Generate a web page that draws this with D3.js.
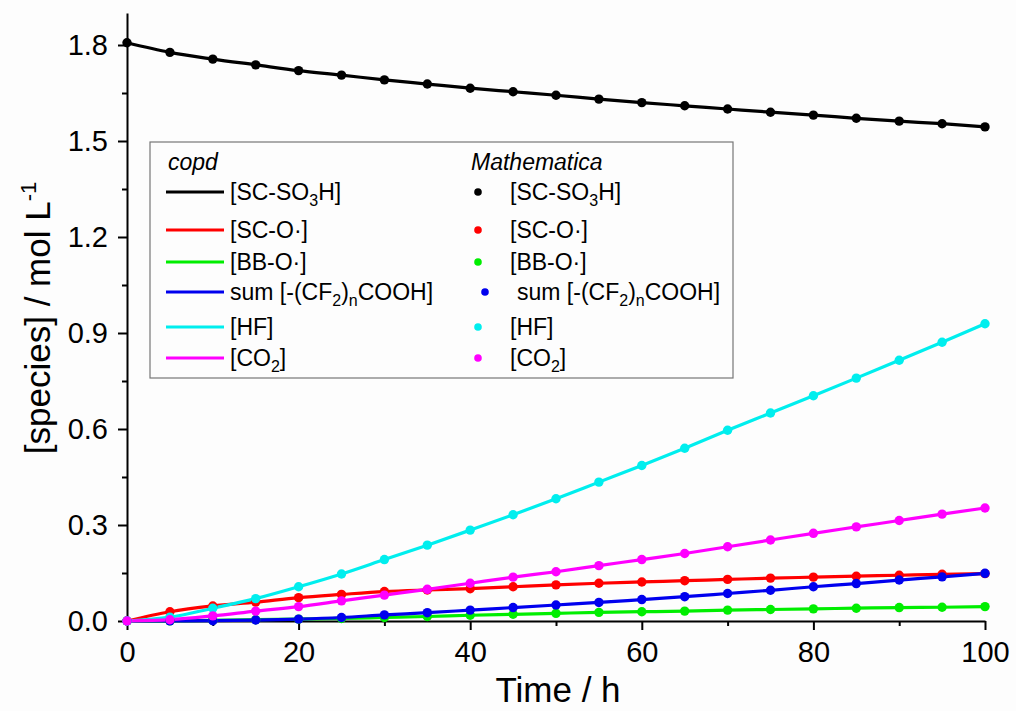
<!DOCTYPE html>
<html>

<head>
  <title>Species vs time</title>
  <script type="text/javascript" src="https://cdn.jsdelivr.net/npm/d3@7/dist/d3.min.js"></script>
  <style>
    body { margin: 0; background: #ffffff; }
    text { font-family: "Liberation Sans", Arial, sans-serif; fill: #000; }
  </style>
</head>

<body>
  <script type="text/javascript">

    // Data, time in h, concentrations in mol/L
    const time = [0, 5, 10, 15, 20, 25, 30, 35, 40, 45, 50, 55, 60, 65, 70, 75, 80, 85, 90, 95, 100];
    const scSO3H = [1.807, 1.777, 1.756, 1.738, 1.720, 1.706, 1.691, 1.678, 1.665, 1.654, 1.643, 1.631, 1.620, 1.610, 1.600, 1.590, 1.581, 1.571, 1.562, 1.554, 1.544];
    const scO = [0, 0.029, 0.047, 0.059, 0.073, 0.083, 0.092, 0.097, 0.101, 0.107, 0.113, 0.118, 0.122, 0.126, 0.130, 0.134, 0.137, 0.140, 0.143, 0.146, 0.148];
    const bbO = [0, 0.0005, 0.002, 0.004, 0.006, 0.008, 0.011, 0.014, 0.018, 0.021, 0.024, 0.027, 0.029, 0.031, 0.034, 0.036, 0.038, 0.040, 0.042, 0.043, 0.045];
    const sumCOOH = [0, 0.0005, 0.001, 0.003, 0.006, 0.011, 0.019, 0.026, 0.034, 0.042, 0.050, 0.058, 0.067, 0.076, 0.086, 0.096, 0.107, 0.117, 0.128, 0.138, 0.149];
    const hf = [0, 0.012, 0.040, 0.070, 0.107, 0.147, 0.192, 0.237, 0.284, 0.332, 0.382, 0.434, 0.486, 0.540, 0.596, 0.650, 0.704, 0.759, 0.815, 0.871, 0.929];
    const co2 = [0, 0.004, 0.016, 0.031, 0.045, 0.063, 0.081, 0.099, 0.118, 0.137, 0.154, 0.173, 0.192, 0.211, 0.232, 0.253, 0.274, 0.294, 0.314, 0.334, 0.353];

    // Labels ("_{x}" = subscript)
    const seriesLabels = ["[SC-SO_{3}H]", "[SC-O·]", "[BB-O·]", "sum [-(CF_{2})_{n}COOH]", "[HF]", "[CO_{2}]"];
    const seriesColors = ["#000000", "#ff0000", "#00ee00", "#0000ee", "#00eeee", "#ff00ff"];
    const xTicks = [0, 20, 40, 60, 80, 100];
    const xMinorTicks = [10, 30, 50, 70, 90];
    const yTicks = [0, 0.3, 0.6, 0.9, 1.2, 1.5, 1.8];
    const yMinorTicks = [0.15, 0.45, 0.75, 1.05, 1.35, 1.65];

    const series = [scSO3H, scO, bbO, sumCOOH, hf, co2];

    const W = 1016, H = 711;

    const xScale = d3.scaleLinear().domain([0, 100]).range([127, 985]);
    const yScale = d3.scaleLinear().domain([0, 1.9]).range([621, 13]);

    const svg = d3.select("body")
      .append("svg")
      .attr("width", W)
      .attr("height", H);

    svg.append("rect").attr("width", W).attr("height", H).attr("fill", "#fdfdfd");

    // put text with subscripts into a text element
    function richText(sel, str, subSize, subShift) {
      const parts = str.split(/(_\{[^}]*\})/).filter(p => p.length);
      let shifted = false;
      parts.forEach(function (p) {
        if (p.startsWith("_{")) {
          sel.append("tspan").attr("font-size", subSize).attr("dy", shifted ? 0 : subShift).text(p.slice(2, -1));
          shifted = true;
        } else {
          sel.append("tspan").attr("dy", shifted ? -subShift : 0).text(p);
          shifted = false;
        }
      });
    }

    // X axis
    const xAxis = svg.append("g").attr("transform", "translate(0,621)");
    xAxis.call(d3.axisBottom(xScale).tickValues(xTicks).tickSize(9).tickSizeOuter(0).tickFormat(d3.format("d")));
    xAxis.append("g").call(d3.axisBottom(xScale).tickValues(xMinorTicks).tickSize(5).tickSizeOuter(0).tickFormat(""))
      .select(".domain").remove();
    xAxis.selectAll(".domain").attr("stroke-width", 2);
    xAxis.selectAll(".tick line").attr("stroke-width", 2);
    xAxis.selectAll(".tick text").attr("font-size", 29).attr("dy", "1.0em")
      .style("font-family", "'Liberation Sans', Arial, sans-serif");

    // Y axis
    const yAxis = svg.append("g").attr("transform", "translate(127,0)");
    yAxis.call(d3.axisLeft(yScale).tickValues(yTicks).tickSize(9).tickSizeOuter(0).tickFormat(d3.format(".1f")));
    yAxis.append("g").call(d3.axisLeft(yScale).tickValues(yMinorTicks).tickSize(5).tickSizeOuter(0).tickFormat(""))
      .select(".domain").remove();
    yAxis.selectAll(".domain").attr("stroke-width", 2);
    yAxis.selectAll(".tick line").attr("stroke-width", 2);
    yAxis.selectAll(".tick text").attr("font-size", 29).attr("x", -19)
      .style("font-family", "'Liberation Sans', Arial, sans-serif");

    // Axis titles
    svg.append("text")
      .attr("x", 558).attr("y", 702)
      .attr("text-anchor", "middle")
      .attr("font-size", 35)
      .text("Time / h");

    const yTitle = svg.append("text")
      .attr("transform", "translate(50,318) rotate(-90)")
      .attr("text-anchor", "middle")
      .attr("font-size", 35);
    yTitle.append("tspan").text("[species] / mol L");
    yTitle.append("tspan").attr("font-size", 22).attr("dy", -14).text("-1");

    // Lines (copd) and points (Mathematica)
    const line = d3.line()
      .x((d, i) => xScale(time[i]))
      .y(d => yScale(d))
      .curve(d3.curveMonotoneX);

    series.forEach(function (s, k) {
      svg.append("path")
        .datum(s)
        .attr("d", line)
        .attr("fill", "none")
        .attr("stroke", seriesColors[k])
        .attr("stroke-width", 3.2);
    });

    series.forEach(function (s, k) {
      svg.append("g").selectAll("circle")
        .data(s)
        .enter()
        .append("circle")
        .attr("cx", (d, i) => xScale(time[i]))
        .attr("cy", d => yScale(d))
        .attr("r", 4.7)
        .attr("fill", seriesColors[k]);
    });

    // Legend
    const legend = svg.append("g");
    legend.append("rect")
      .attr("x", 150).attr("y", 142)
      .attr("width", 583).attr("height", 236)
      .attr("fill", "#fdfdfd")
      .attr("stroke", "#777")
      .attr("stroke-width", 1.2);

    legend.append("text").attr("x", 168).attr("y", 170)
      .attr("font-size", 23).attr("font-style", "italic").text("copd");
    legend.append("text").attr("x", 471).attr("y", 170)
      .attr("font-size", 23).attr("font-style", "italic").text("Mathematica");

    const rowY = [192, 230, 262, 292, 327, 358];

    seriesLabels.forEach(function (lab, k) {
      const y = rowY[k];
      const extra = k === 3 ? 7 : 0;
      legend.append("line")
        .attr("x1", 166).attr("x2", 224)
        .attr("y1", y).attr("y2", y)
        .attr("stroke", seriesColors[k])
        .attr("stroke-width", 3);
      richText(legend.append("text").attr("x", 230).attr("y", y + 8).attr("font-size", 23), lab, 16, 6);

      legend.append("circle")
        .attr("cx", 478 + extra).attr("cy", y)
        .attr("r", 3.8)
        .attr("fill", seriesColors[k]);
      richText(legend.append("text").attr("x", 510 + extra).attr("y", y + 8).attr("font-size", 23), lab, 16, 6);
    });
  </script>
</body>

</html>
